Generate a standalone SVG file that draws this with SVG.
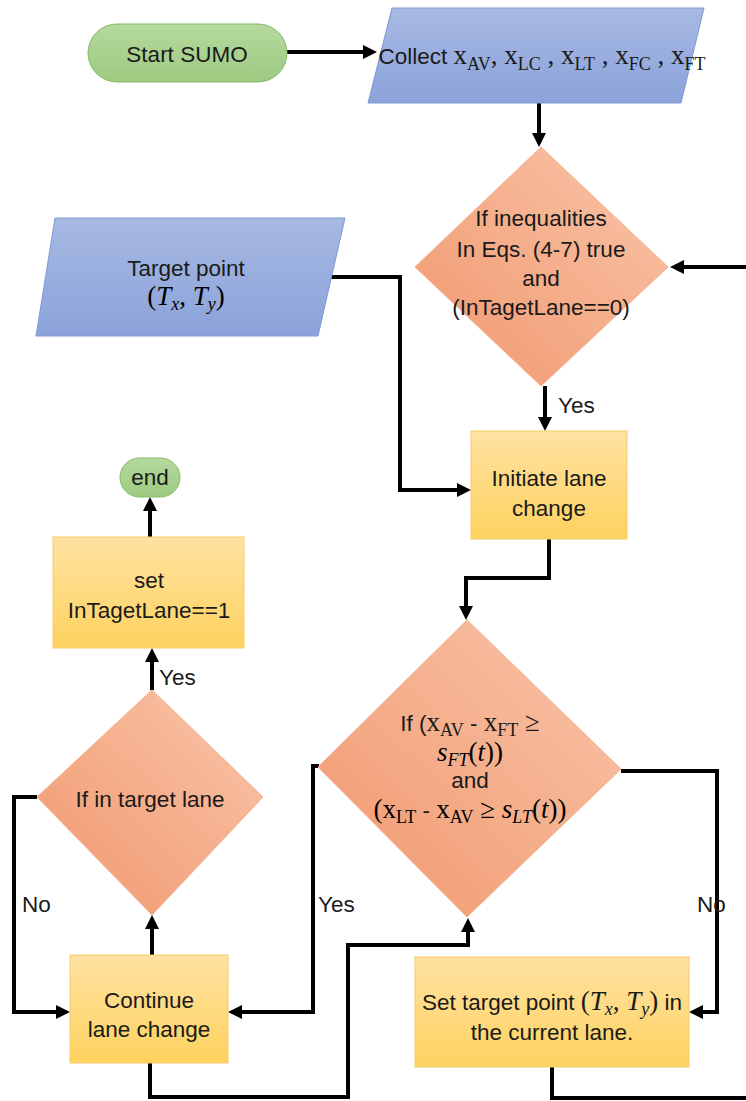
<svg xmlns="http://www.w3.org/2000/svg" width="746" height="1101" viewBox="0 0 746 1101">
<defs>
<linearGradient id="gDia" x1="1" y1="0" x2="0" y2="1"><stop offset="0" stop-color="#f9c6aa"/><stop offset="1" stop-color="#f1966d"/></linearGradient>
<linearGradient id="gBox" x1="0" y1="0" x2="0" y2="1"><stop offset="0" stop-color="#ffe2a2"/><stop offset="1" stop-color="#fed25f"/></linearGradient>
<linearGradient id="gBlue" x1="0" y1="0" x2="0" y2="1"><stop offset="0" stop-color="#a7b9e3"/><stop offset="1" stop-color="#8ba3da"/></linearGradient>
<linearGradient id="gGreen" x1="0" y1="0" x2="0" y2="1"><stop offset="0" stop-color="#b5d99f"/><stop offset="1" stop-color="#9dca80"/></linearGradient>
<marker id="arr" markerUnits="userSpaceOnUse" markerWidth="16" markerHeight="16" refX="8" refY="7" orient="auto" overflow="visible">
<path d="M0,0 L14,7 L0,14 z" fill="#000"/>
</marker>
<style>
.t{font-family:"Liberation Sans",Arial,sans-serif;font-size:22.5px;fill:#1a1a1a}
.m{font-family:"Liberation Serif","Times New Roman",serif;font-size:27px}
.s{font-family:"Liberation Serif","Times New Roman",serif;font-size:18px}
.i{font-style:italic}
.dia{fill:url(#gDia);stroke:#f4b08e;stroke-width:1}
.box{fill:url(#gBox);stroke:#f7cb6a;stroke-width:1}
.blue{fill:url(#gBlue);stroke:#7f99d5;stroke-width:1}
.green{fill:url(#gGreen);stroke:#86bb64;stroke-width:1}
.c{fill:none;stroke:#000;stroke-width:4;stroke-linejoin:miter}
.a{marker-end:url(#arr)}
</style>
</defs>

<g id="connectors">
<path class="c a" d="M287,52 H371"/>
<path class="c a" d="M539,103 V141"/>
<path class="c a" d="M746,267 H676"/>
<path class="c a" d="M545,386 V425"/>
<path class="c a" d="M331,277 H400 V490 H465"/>
<path class="c a" d="M549,539 V578 H466 V614"/>
<path class="c a" d="M621,771 H717 V1012 H695"/>
<path class="c a" d="M319,766 H313 V1012 H234"/>
<path class="c a" d="M37,797 H14 V1012 H64"/>
<path class="c a" d="M152,955 V921"/>
<path class="c a" d="M152,690 V654"/>
<path class="c a" d="M150,537 V503"/>
<path class="c a" d="M150,1063 V1097 H348 V945 H468 V924"/>
<path class="c" d="M552,1067 V1098 H746"/>
<text class="t" x="558" y="413" font-size="20">Yes</text>
<text class="t" x="159" y="685" font-size="20">Yes</text>
<text class="t" x="22" y="912" font-size="20">No</text>
<text class="t" x="318" y="912" font-size="20">Yes</text>
<text class="t" x="697" y="912" font-size="20">No</text>
</g>

<g id="start">
<rect class="green" x="88" y="24" width="199" height="58" rx="29"/>
<text class="t" x="187" y="62" text-anchor="middle" font-size="22.5">Start SUMO</text>
</g>

<g id="collect">
<polygon class="blue" points="392,8 704,8 681,103 368,103"/>
<text class="t" x="542" y="64" text-anchor="middle" font-size="22.5">Collect <tspan class="m" font-size="25">x</tspan><tspan class="s" font-size="17" dy="6">AV</tspan><tspan class="m" font-size="25" dy="-6">, x</tspan><tspan class="s" font-size="17" dy="6">LC</tspan><tspan class="m" font-size="25" dy="-6"> , x</tspan><tspan class="s" font-size="17" dy="6">LT</tspan><tspan class="m" font-size="25" dy="-6"> , x</tspan><tspan class="s" font-size="17" dy="6">FC</tspan><tspan class="m" font-size="25" dy="-6"> , x</tspan><tspan class="s" font-size="17" dy="6">FT</tspan></text>
</g>

<g id="decision1">
<polygon class="dia" points="541,147 668,267 541,386 415,267"/>
<text class="t" x="541" y="226" text-anchor="middle" font-size="23.5">If inequalities</text>
<text class="t" x="541" y="257" text-anchor="middle" font-size="23.5">In Eqs. (4-7) true</text>
<text class="t" x="541" y="286" text-anchor="middle" font-size="23.5">and</text>
<text class="t" x="541" y="315" text-anchor="middle" font-size="23.5">(InTagetLane==0)</text>
</g>

<g id="target">
<polygon class="blue" points="55,218 345,218 318,336 36,336"/>
<text class="t" x="186" y="276" text-anchor="middle" font-size="23.5">Target point</text>
<text class="m" x="186" y="305" text-anchor="middle">(<tspan class="i">T</tspan><tspan class="s i" dy="5">x</tspan><tspan dy="-5">, </tspan><tspan class="i">T</tspan><tspan class="s i" dy="5">y</tspan><tspan dy="-5">)</tspan></text>
</g>

<g id="initiate">
<rect class="box" x="471" y="431" width="156" height="108"/>
<text class="t" x="549" y="486" text-anchor="middle" font-size="23.5">Initiate lane</text>
<text class="t" x="549" y="516" text-anchor="middle" font-size="23.5">change</text>
</g>

<g id="decision2">
<polygon class="dia" points="467,620 621,769 467,917 318,767"/>
<text class="t" x="470" y="731" text-anchor="middle" font-size="23.5">If (<tspan class="m">x</tspan><tspan class="s" dy="5">AV</tspan><tspan dy="-5"> - </tspan><tspan class="m">x</tspan><tspan class="s" dy="5">FT</tspan><tspan dy="-5" class="m"> ≥</tspan></text>
<text class="m" x="470" y="761" text-anchor="middle"><tspan class="i">s</tspan><tspan class="s i" dy="5">FT</tspan><tspan dy="-5">(</tspan><tspan class="i">t</tspan>))</text>
<text class="t" x="470" y="788" text-anchor="middle" font-size="23.5">and</text>
<text class="m" x="470" y="818" text-anchor="middle">(x<tspan class="s" dy="5">LT</tspan><tspan class="t" font-size="23.5" dy="-5"> - </tspan>x<tspan class="s" dy="5">AV</tspan><tspan dy="-5"> ≥  </tspan><tspan class="i">s</tspan><tspan class="s i" dy="5">LT</tspan><tspan dy="-5">(</tspan><tspan class="i">t</tspan>))</text>
</g>

<g id="settarget">
<rect class="box" x="415" y="957" width="274" height="110"/>
<text class="t" x="552" y="1010" text-anchor="middle" font-size="23">Set target point <tspan class="m">(</tspan><tspan class="m i">T</tspan><tspan class="s i" dy="5">x</tspan><tspan class="m" dy="-5">, </tspan><tspan class="m i">T</tspan><tspan class="s i" dy="5">y</tspan><tspan class="m" dy="-5">)</tspan> in</text>
<text class="t" x="552" y="1040" text-anchor="middle">the current lane.</text>
</g>

<g id="continue">
<rect class="box" x="70" y="955" width="158" height="108"/>
<text class="t" x="149" y="1008" text-anchor="middle" font-size="23">Continue</text>
<text class="t" x="149" y="1037" text-anchor="middle" font-size="23">lane change</text>
</g>

<g id="decision3">
<polygon class="dia" points="152,690 263,797 152,915 37,797"/>
<text class="t" x="150" y="807" text-anchor="middle" font-size="23">If in target lane</text>
</g>

<g id="setlane">
<rect class="box" x="53" y="537" width="191" height="111"/>
<text class="t" x="149" y="588" text-anchor="middle" font-size="23">set</text>
<text class="t" x="149" y="618" text-anchor="middle" font-size="23">InTagetLane==1</text>
</g>

<g id="end">
<rect class="green" x="120" y="458" width="60" height="39" rx="19.5"/>
<text class="t" x="150" y="485" text-anchor="middle">end</text>
</g>
</svg>
